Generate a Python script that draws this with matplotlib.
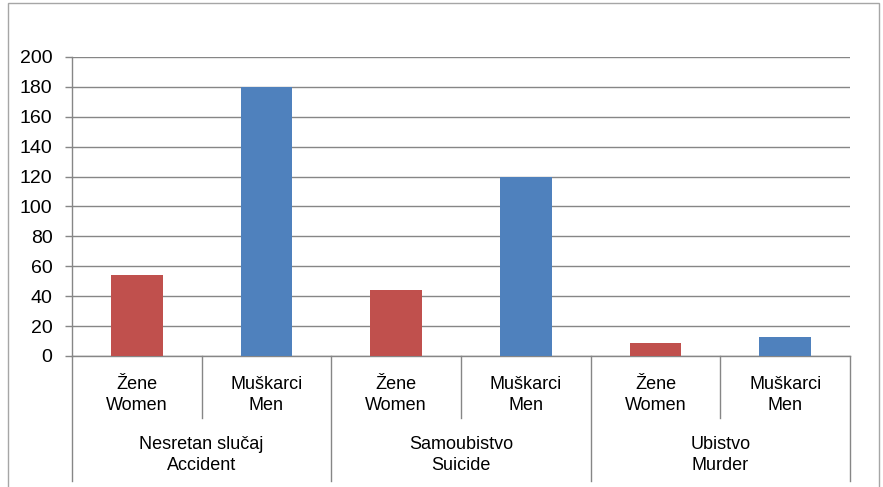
import matplotlib
matplotlib.use("Agg")
import matplotlib.pyplot as plt
from matplotlib.patches import Rectangle
from matplotlib.lines import Line2D

# ==============================
# Data
# ==============================

groups = ["Nesretan slučaj\nAccident", "Samoubistvo\nSuicide", "Ubistvo\nMurder"]
genders = ["Žene\nWomen", "Muškarci\nMen"]
women = [54, 44, 9]
men = [180, 120, 13]

RED = "#C0504D"
BLUE = "#4F81BD"
GRID = "#868686"

plt.rcParams["font.family"] = ["Liberation Sans", "DejaVu Sans"]

W, H = 883, 487
fig = plt.figure(figsize=(W / 100, H / 100), dpi=100)

# outer chart border
fig.add_artist(Rectangle((8 / W, -0.01), (879 - 8) / W, 1.0 - 3 / H + 0.01,
                         transform=fig.transFigure, fill=False,
                         edgecolor="#A6A6A6", linewidth=1))

ax = fig.add_axes([72 / W, (H - 356) / H, (850 - 72) / W, (356 - 57) / H])

xs = []
vals = []
cols = []
for g in range(len(groups)):
    xs += [2 * g, 2 * g + 1]
    vals += [women[g], men[g]]
    cols += [RED, BLUE]

ax.bar(xs, vals, width=0.4, color=cols, zorder=3)

ax.set_xlim(-0.5, 2 * len(groups) - 0.5)
ax.set_ylim(0, 200)
ax.set_yticks(range(0, 201, 20))
ax.tick_params(axis="y", labelsize=14, length=5, color=GRID, width=1, pad=9)
ax.set_xticks([])
ax.yaxis.grid(True, color=GRID, linewidth=1)
ax.set_axisbelow(True)
for side in ["top", "right"]:
    ax.spines[side].set_visible(False)
for side in ["left", "bottom"]:
    ax.spines[side].set_color(GRID)
    ax.spines[side].set_linewidth(1)

# category axis boxes below the plot
def ypix(p):
    # pixel row -> axes fraction
    return (356 - p) / (356 - 57)

trans = ax.get_xaxis_transform()
for b in range(2 * len(groups) + 1):
    xb = b - 0.5
    bottom = 481 if b % 2 == 0 else 418
    ax.add_line(Line2D([xb, xb], [0, ypix(bottom)], transform=trans,
                       color=GRID, linewidth=1, clip_on=False))

for i, x in enumerate(xs):
    ax.text(x, ypix(395), genders[i % 2], transform=trans, ha="center",
            va="center", fontsize=13, linespacing=1.25)

for g, name in enumerate(groups):
    ax.text(2 * g + 0.5, ypix(455), name, transform=trans, ha="center",
            va="center", fontsize=13, linespacing=1.25)

fig.savefig("out.png", dpi=100)
